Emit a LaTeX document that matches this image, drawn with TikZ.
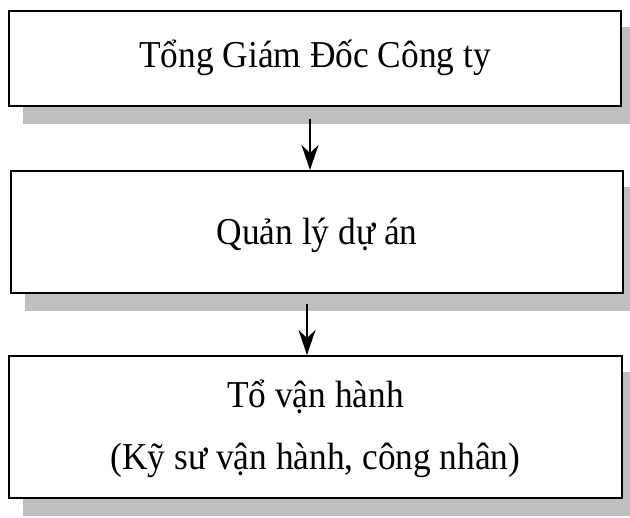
\documentclass[tikz,border=0pt]{standalone}
\usepackage{fontspec}
\setmainfont{Liberation Serif}
\usetikzlibrary{arrows.meta}
\definecolor{shadowgray}{RGB}{191,191,191}
\begin{document}
\begin{tikzpicture}[x=1pt,y=-1pt,
  box/.style={draw=black,line width=2pt,fill=white,inner sep=0pt},
  shade/.style={fill=shadowgray,draw=none},
  lbl/.style={font=\fontsize{38}{46}\selectfont,anchor=base,inner sep=0pt,xscale=0.93,transform shape},
  arr/.style={line width=2pt,-{Stealth[length=25pt,width=17pt,inset=8pt]}}]
\clip (0,0) rectangle (630,518);
\fill[white] (0,0) rectangle (630,518);
% boxes (named, used for positions)
\node[box,minimum width=612pt,minimum height=95pt] (b1) at (315,58.5) {};
\node[box,minimum width=612pt,minimum height=122pt] (b2) at (317,232) {};
\node[box,minimum width=613pt,minimum height=142pt] (b3) at (315.5,427) {};
% shadows
\fill[shade] ([xshift=15pt,yshift=-17pt]b1.south west) rectangle ([xshift=15pt,yshift=-17pt]b1.north east);
\fill[shade] ([xshift=15pt,yshift=-17pt]b2.south west) rectangle ([xshift=15pt,yshift=-17pt]b2.north east);
\fill[shade] ([xshift=15pt,yshift=-17pt]b3.south west) rectangle ([xshift=15pt,yshift=-17pt]b3.north east);
% boxes again, above their shadows
\node[box,minimum width=612pt,minimum height=95pt] (b1f) at (b1.center) {};
\node[box,minimum width=612pt,minimum height=122pt] (b2f) at (b2.center) {};
\node[box,minimum width=613pt,minimum height=142pt] (b3f) at (b3.center) {};
% texts
\node[lbl] (t1) at (315,68) {Tổng Giám Đốc Công ty};
\node[lbl] (t2) at (317,245) {Quản lý dự án};
\node[lbl] (t3) at (315.5,408) {Tổ vận hành};
\node[lbl] (t4) at (315.5,470) {(Kỹ sư vận hành, công nhân)};
% arrows
\coordinate (a1) at (310,119);
\coordinate (a2) at (307,304);
\draw[arr] (a1) -- (a1 |- b2.north);
\draw[arr] (a2) -- (a2 |- b3.north);
\end{tikzpicture}
\end{document}
